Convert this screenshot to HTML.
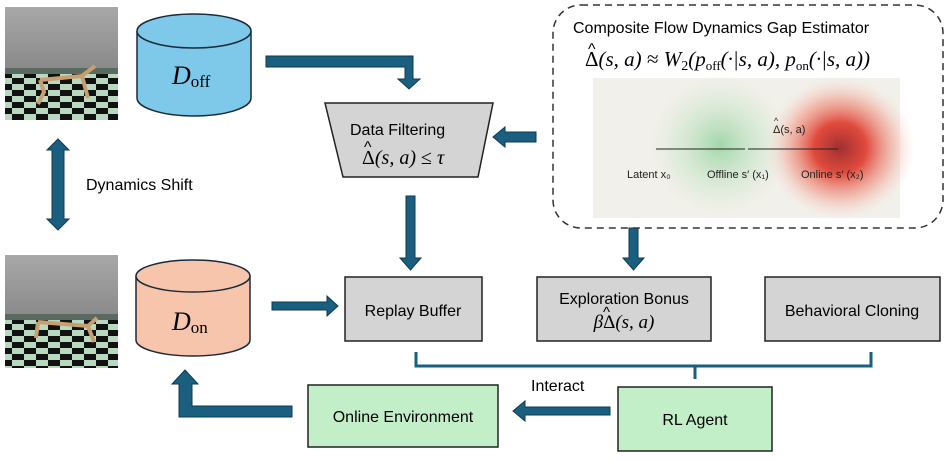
<!DOCTYPE html>
<html><head><meta charset="utf-8"><style>
body{margin:0;background:#fff;}
svg text{font-family:"Liberation Sans",sans-serif;}
.m{font-family:"Liberation Serif",serif;font-style:italic;}
</style></head><body>
<svg width="947" height="455" viewBox="0 0 947 455" xmlns="http://www.w3.org/2000/svg">
<defs>
<linearGradient id="sky" x1="0" y1="0" x2="0" y2="1"><stop offset="0" stop-color="#a8a8a8"/><stop offset="1" stop-color="#707070"/></linearGradient>
<pattern id="chk" width="24" height="12" patternUnits="userSpaceOnUse"><rect width="24" height="12" fill="#b8d8c0"/><rect width="12" height="6" fill="#111"/><rect x="12" y="6" width="12" height="6" fill="#111"/></pattern>
<radialGradient id="gr" cx="0.5" cy="0.5" r="0.5"><stop offset="0" stop-color="#8fd09a" stop-opacity="0.8"/><stop offset="1" stop-color="#c8e8c8" stop-opacity="0"/></radialGradient>
<radialGradient id="rd" cx="0.5" cy="0.5" r="0.5"><stop offset="0" stop-color="#a03030"/><stop offset="0.35" stop-color="#e04a3c"/><stop offset="0.7" stop-color="#f0a090" stop-opacity="0.6"/><stop offset="1" stop-color="#f8e0d8" stop-opacity="0"/></radialGradient>
</defs>
<g>
<rect x="5" y="7" width="113" height="113" fill="url(#sky)"/>
<rect x="5" y="68" width="113" height="52" fill="url(#chk)"/>
<rect x="5" y="68" width="113" height="6" fill="#5a6a60"/>
<path d="M40 80 L82 76 L95 66 M40 80 L44 92 L38 104 M82 76 L88 98" stroke="#c8a070" stroke-width="4" fill="none"/>
<rect x="5" y="255" width="113" height="113" fill="url(#sky)"/>
<rect x="5" y="314" width="113" height="54" fill="url(#chk)"/>
<rect x="5" y="314" width="113" height="6" fill="#5a6a60"/>
<path d="M38 322 L88 326 L97 318 M38 322 L36 338 M88 326 L94 342" stroke="#c8a070" stroke-width="4" fill="none"/>
</g>
<g stroke="#1a2a3a" stroke-width="1.5">
<path d="M137 31 L137 98 A57 18 0 0 0 251 98 L251 31" fill="#7ec8ea"/>
<ellipse cx="194" cy="31" rx="57" ry="17" fill="#7ec8ea"/>
<path d="M136 276 L136 340 A57 16 0 0 0 250 340 L250 276" fill="#f6c5ab"/>
<ellipse cx="193" cy="276" rx="57" ry="16" fill="#f6c5ab"/>
</g>
<text x="172" y="84" class="m" font-size="26">D<tspan font-size="17" font-style="normal" dy="3">off</tspan></text>
<text x="172" y="330" class="m" font-size="26">D<tspan font-size="17" font-style="normal" dy="3">on</tspan></text>
<g fill="#1a5f80" stroke="#0f3a50" stroke-width="1">
<path d="M52 150 L47 150 L58 139 L69 150 L64 150 L64 219 L69 219 L58 230 L47 219 L52 219 Z"/>
<path d="M266 56 L413 56 L413 79 L420 79 L409 89 L398 79 L405 79 L405 67 L266 67 Z"/>
<path d="M536 132 L505 132 L505 127 L493 137 L505 147 L505 142 L536 142 Z"/>
<path d="M406 196 L415 196 L415 258 L421 258 L410.5 270 L400 258 L406 258 Z"/>
<path d="M629 228 L638 228 L638 258 L644 258 L633.5 270 L623 258 L629 258 Z"/>
<path d="M272 302 L327 302 L327 296 L338 306 L327 316 L327 310 L272 310 Z"/>
<path d="M610 407 L525 407 L525 401 L513 411 L525 421 L525 415 L610 415 Z"/>
<path d="M292 406 L192 406 L192 384 L198 384 L185 370 L172 384 L179 384 L179 417 L292 417 Z"/>
</g>
<text x="86" y="190" font-size="16">Dynamics Shift</text>
<path d="M325 103 L493 103 L478 177 L343 177 Z" fill="#d4d4d4" stroke="#222" stroke-width="1.5"/>
<text x="350" y="135" font-size="16">Data Filtering</text>
<text x="362" y="164" font-size="20" class="m"><tspan font-style="normal">Δ</tspan>(s, a) <tspan font-style="normal">≤</tspan> τ</text>
<text x="364" y="152" font-size="16" font-family="Liberation Serif">^</text>
<rect x="553" y="5" width="390" height="223" rx="28" fill="none" stroke="#333" stroke-width="1.5" stroke-dasharray="7,5"/>
<text x="573" y="33" font-size="16">Composite Flow Dynamics Gap Estimator</text>
<text x="585" y="66" font-size="21" class="m"><tspan font-style="normal">Δ</tspan>(s, a) <tspan font-style="normal">≈</tspan> W<tspan font-size="14" dy="4" font-style="normal">2</tspan><tspan dy="-4">(p</tspan><tspan font-size="13" dy="4" font-style="normal">off</tspan><tspan dy="-4">(·|s, a), p</tspan><tspan font-size="13" dy="4" font-style="normal">on</tspan><tspan dy="-4">(·|s, a))</tspan></text>
<text x="588" y="54" font-size="16" font-family="Liberation Serif">^</text>
<rect x="593" y="78" width="307" height="140" fill="#f2f0ea"/>
<ellipse cx="720" cy="145" rx="70" ry="70" fill="url(#gr)"/>
<ellipse cx="840" cy="148" rx="75" ry="72" fill="url(#rd)"/>
<line x1="656" y1="149" x2="745" y2="149" stroke="#222" stroke-width="1"/>
<line x1="748" y1="149" x2="838" y2="149" stroke="#222" stroke-width="1"/>
<text x="773" y="133" font-size="11" fill="#222">Δ(s, a)</text>
<text x="774" y="124" font-size="9" fill="#222">^</text>
<text x="627" y="178" font-size="11" fill="#222">Latent x₀</text>
<text x="707" y="178" font-size="11" fill="#222">Offline s′ (x₁)</text>
<text x="801" y="178" font-size="11" fill="#222">Online s′ (x₂)</text>
<g stroke="#222" stroke-width="1.5">
<rect x="345" y="277" width="137" height="64" fill="#d4d4d4"/>
<rect x="537" y="277" width="174" height="64" fill="#d4d4d4"/>
<rect x="765" y="277" width="175" height="64" fill="#d4d4d4"/>
<rect x="308" y="385" width="190" height="62" fill="#c3efc8"/>
<rect x="618" y="387" width="154" height="64" fill="#c3efc8"/>
</g>
<text x="413" y="316" font-size="16" text-anchor="middle">Replay Buffer</text>
<text x="624" y="304" font-size="16" text-anchor="middle">Exploration Bonus</text>
<text x="624" y="328" font-size="19" class="m" text-anchor="middle">β<tspan font-style="normal">Δ</tspan>(s, a)</text>
<text x="603" y="317" font-size="15" font-family="Liberation Serif">^</text>
<text x="852" y="316" font-size="16" text-anchor="middle">Behavioral Cloning</text>
<text x="403" y="422" font-size="16" text-anchor="middle">Online Environment</text>
<text x="695" y="425" font-size="16" text-anchor="middle">RL Agent</text>
<text x="531" y="391" font-size="16">Interact</text>
<path d="M416 352 L416 366 L871 366 L871 352 M695 366 L695 379" stroke="#1a5f80" stroke-width="3" fill="none"/>
</svg>
</body></html>
